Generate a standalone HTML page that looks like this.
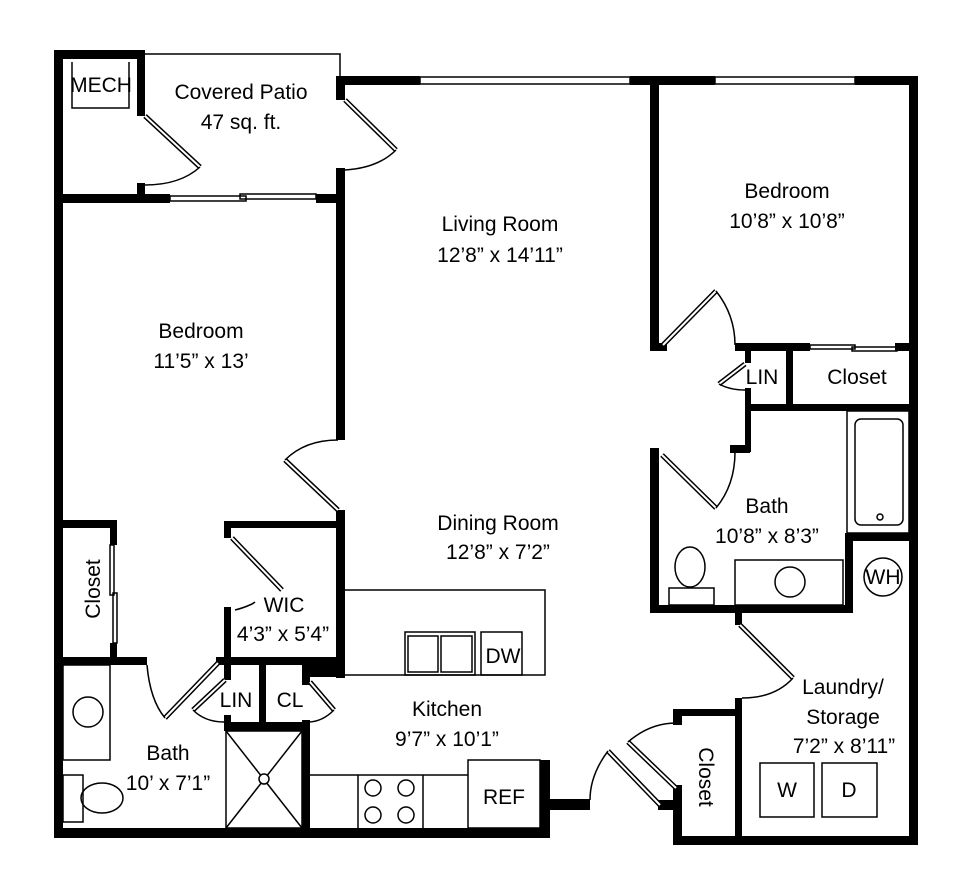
<!DOCTYPE html>
<html><head><meta charset="utf-8"><style>
html,body{margin:0;padding:0;background:#fff;}
svg{display:block;}
text{font-family:"Liberation Sans Narrow","Liberation Sans",sans-serif;fill:#000;text-anchor:middle;font-size:21px;}
</style></head><body>
<svg width="975" height="896" viewBox="0 0 975 896" xmlns="http://www.w3.org/2000/svg">
<g fill="#000">
<rect x="54" y="50" width="91" height="9"/>
<rect x="54" y="50" width="9" height="788"/>
<rect x="137" y="50" width="8" height="66"/>
<rect x="137" y="183" width="8" height="18"/>
<rect x="54" y="194" width="116" height="9"/>
<rect x="316" y="194" width="29" height="9"/>
<rect x="336" y="76" width="9" height="24"/>
<rect x="336" y="168" width="9" height="272"/>
<rect x="336" y="510" width="9" height="168"/>
<rect x="336" y="76" width="84" height="9"/>
<rect x="630" y="76" width="85" height="9"/>
<rect x="855" y="76" width="63" height="9"/>
<rect x="909" y="76" width="9" height="769"/>
<rect x="650" y="76" width="9" height="274"/>
<rect x="650" y="343" width="17" height="8"/>
<rect x="735" y="343" width="75" height="8"/>
<rect x="895" y="343" width="23" height="8"/>
<rect x="745" y="343" width="6" height="20"/>
<rect x="745" y="388" width="6" height="64"/>
<rect x="786" y="350" width="7" height="56"/>
<rect x="745" y="404" width="173" height="7"/>
<rect x="730" y="445" width="20" height="8"/>
<rect x="650" y="448" width="9" height="165"/>
<rect x="650" y="605" width="203" height="8"/>
<rect x="845" y="533" width="8" height="80"/>
<rect x="845" y="533" width="73" height="8"/>
<rect x="735" y="605" width="7" height="20"/>
<rect x="735" y="698" width="7" height="147"/>
<rect x="673" y="836" width="245" height="9"/>
<rect x="673" y="709" width="69" height="7"/>
<rect x="673" y="709" width="9" height="16"/>
<rect x="673" y="785" width="9" height="60"/>
<rect x="658" y="800" width="24" height="10"/>
<rect x="545" y="799" width="45" height="11"/>
<rect x="540" y="760" width="10" height="78"/>
<rect x="54" y="828" width="496" height="10"/>
<rect x="54" y="520" width="63" height="8"/>
<rect x="110" y="520" width="7" height="25"/>
<rect x="110" y="643" width="7" height="20"/>
<rect x="54" y="657" width="93" height="8"/>
<rect x="224" y="521" width="114" height="7"/>
<rect x="224" y="521" width="7" height="17"/>
<rect x="224" y="607" width="7" height="73"/>
<rect x="216" y="657" width="129" height="8"/>
<rect x="302" y="657" width="43" height="20"/>
<rect x="259" y="665" width="7" height="58"/>
<rect x="302" y="665" width="8" height="20"/>
<rect x="224" y="715" width="7" height="16"/>
<rect x="224" y="722" width="84" height="9"/>
<rect x="302" y="720" width="8" height="115"/>
</g>
<g fill="none" stroke="#000" stroke-width="1.5">
<path d="M145 54 H340 V78"/>
<rect x="420" y="77" width="210" height="7"/>
<rect x="715" y="77" width="140" height="7"/>
<rect x="170" y="196" width="76" height="5"/>
<rect x="240" y="194" width="76" height="5"/>
<rect x="810" y="345" width="45" height="4"/>
<rect x="852" y="347" width="45" height="4"/>
<rect x="110" y="545" width="4" height="50"/>
<rect x="113" y="593" width="4" height="50"/>
<path d="M72 62 V108 H129 V62"/>
<g stroke-width="5"><path d="M145 116 L200 167 M345 100 L396 150 M716 291 L663 345 M745 364 L719 384 M662 455 L716 508 M740 625 L793 678 M660 805 L608 751 M676 788 L628 742 M285 460 L338 510 M232 538 L282 590 M165 718 L218 663 M225 680 L193 710 M310 682 L334 710"/></g>
<g stroke="#fff" stroke-width="2"><path d="M145 116 L200 167 M345 100 L396 150 M716 291 L663 345 M745 364 L719 384 M662 455 L716 508 M740 625 L793 678 M660 805 L608 751 M676 788 L628 742 M285 460 L338 510 M232 538 L282 590 M165 718 L218 663 M225 680 L193 710 M310 682 L334 710"/></g>
<path d="M200 167 Q180 185 145 185"/>
<path d="M396 150 Q378 168 345 170"/>
<path d="M716 291 Q735 315 735 345"/>
<path d="M719 384 Q730 390 745 390"/>
<path d="M716 508 Q735 485 735 452"/>
<path d="M793 678 Q775 698 742 698"/>
<path d="M608 751 Q590 775 590 800"/>
<path d="M628 742 Q650 723 676 723"/>
<path d="M285 460 Q305 440 338 440"/>
<path d="M147 665 Q150 700 165 718"/>
<path d="M193 710 Q205 722 224 722"/>
<path d="M334 710 Q322 722 308 722"/>
<path d="M235 610 Q250 606 255 602"/>
<path d="M345 590 H545 V675 H345"/>
<rect x="405" y="632" width="70" height="43"/>
<rect x="408" y="636" width="30" height="36"/>
<rect x="441" y="636" width="31" height="36"/>
<rect x="481" y="632" width="41" height="43"/>
<path d="M308 775 H468 M358 775 V828 M423 775 V828"/>
<rect x="468" y="760" width="72" height="68"/>
<circle cx="373" cy="788" r="8"/><circle cx="406" cy="788" r="8"/>
<circle cx="373" cy="815" r="8"/><circle cx="406" cy="815" r="8"/>
<rect x="226" y="731" width="76" height="97"/>
<path d="M226 731 L302 828 M302 731 L226 828"/>
<circle cx="264" cy="779" r="5" fill="#fff"/>
<rect x="63" y="665" width="47" height="95"/>
<circle cx="88" cy="712" r="15"/>
<rect x="63" y="775" width="20" height="47"/>
<ellipse cx="102" cy="798" rx="21" ry="15"/>
<rect x="847" y="411" width="62" height="122"/>
<rect x="855" y="419" width="48" height="106" rx="6"/>
<circle cx="880" cy="517" r="3"/>
<ellipse cx="690" cy="567" rx="15" ry="20"/>
<rect x="669" y="588" width="45" height="17"/>
<rect x="735" y="560" width="108" height="45"/>
<circle cx="790" cy="582" r="15"/>
<circle cx="883" cy="577" r="19"/>
<rect x="760" y="763" width="54" height="54"/>
<rect x="822" y="763" width="55" height="54"/>
</g>
<text x="101" y="92" font-size="20">MECH</text>
<text x="241" y="99">Covered Patio</text>
<text x="241" y="129">47 sq. ft.</text>
<text x="500" y="231">Living Room</text>
<text x="500" y="262">12’8” x 14’11”</text>
<text x="787" y="198">Bedroom</text>
<text x="787" y="228">10’8” x 10’8”</text>
<text x="201" y="338">Bedroom</text>
<text x="201" y="368">11’5” x 13’</text>
<text x="762" y="384">LIN</text>
<text x="857" y="384">Closet</text>
<text x="767" y="513">Bath</text>
<text x="767" y="543">10’8” x 8’3”</text>
<text x="883" y="584" font-size="15">WH</text>
<text x="498" y="530">Dining Room</text>
<text x="498" y="559">12’8” x 7’2”</text>
<text x="284" y="612">WIC</text>
<text x="283" y="641">4’3” x 5’4”</text>
<text x="93" y="589" transform="rotate(-90 93 589)" dy="7">Closet</text>
<text x="503" y="663" font-size="17">DW</text>
<text x="236" y="707">LIN</text>
<text x="290" y="707">CL</text>
<text x="447" y="716">Kitchen</text>
<text x="447" y="746">9’7” x 10’1”</text>
<text x="843" y="694">Laundry/</text>
<text x="843" y="724">Storage</text>
<text x="844" y="753">7’2” x 8’11”</text>
<text x="168" y="760">Bath</text>
<text x="168" y="790">10’ x 7’1”</text>
<text x="504" y="804" font-size="25">REF</text>
<text x="706" y="777" transform="rotate(90 706 777)" dy="7">Closet</text>
<text x="787" y="797">W</text>
<text x="849" y="797">D</text>
</svg>
</body></html>
